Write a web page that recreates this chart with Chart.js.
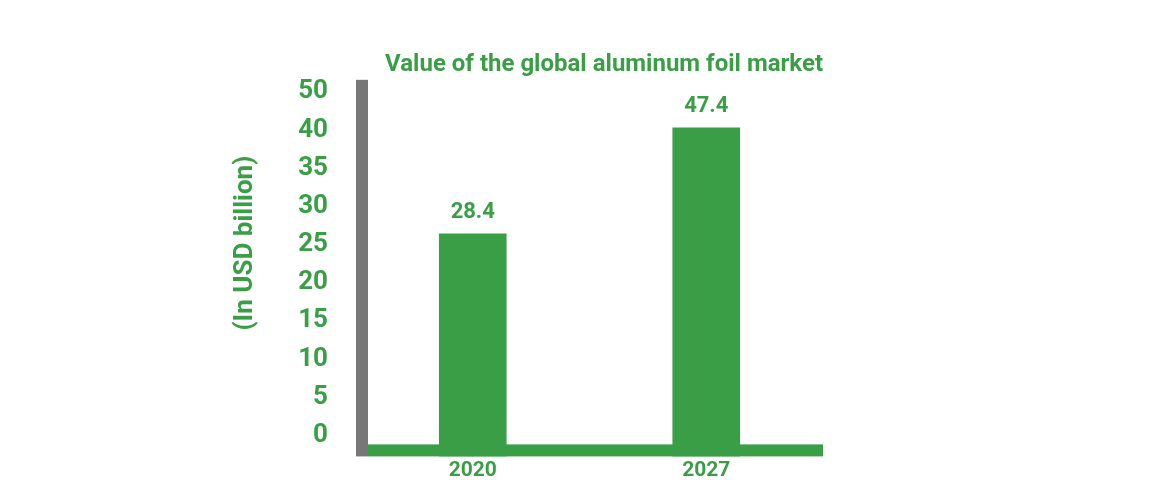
<!DOCTYPE html>
<html>
<head>
<meta charset="utf-8">
<script src="https://cdn.jsdelivr.net/npm/chart.js"></script>
<style>
  html, body { margin: 0; padding: 0; background: #fff; }
  #wrap { width: 1170px; height: 500px; }
</style>
</head>
<body>
<div id="wrap"><canvas id="myChart"></canvas></div>
<script>
let years = ['2020', '2027'];
let values = [28.4, 47.4];          // numbers printed above the bars
let barHeights = [26.4, 40.3];      // bar tops as drawn, read against the printed axis
let tickLabels = ['0', '5', '10', '15', '20', '25', '30', '35', '40', '50'];

let green = '#3a9e46';
let grey = '#777777';
let font = 'Roboto, "Open Sans", sans-serif';

let axisMin = -2.76;
let axisMax = 46.58;

// grey y bar, green base line, value labels and the rotated unit title
let decor = {
    id: 'decor',
    beforeDatasetsDraw(chart) {
        let {ctx, chartArea: a} = chart;
        ctx.save();
        ctx.fillStyle = grey;
        ctx.fillRect(a.left, a.top, 12, a.bottom - a.top);
        ctx.fillStyle = green;
        ctx.fillRect(a.left + 12, a.bottom - 12, a.right - a.left - 12, 12);
        ctx.restore();
    },
    afterDatasetsDraw(chart) {
        let {ctx, chartArea: a} = chart;
        let meta = chart.getDatasetMeta(0);
        ctx.save();
        ctx.fillStyle = green;
        ctx.textAlign = 'center';
        ctx.textBaseline = 'middle';
        ctx.font = 'bold 22px ' + font;
        meta.data.forEach((bar, i) => {
            ctx.fillText(values[i].toFixed(1), bar.x, bar.y - 21);
        });

        ctx.font = 'bold 26px ' + font;
        ctx.translate(chart.scales.y.left + 13, (a.top + a.bottom) / 2 - 25);
        ctx.rotate(-Math.PI / 2);
        ctx.fillText('(In USD billion)', 0, 0);
        ctx.restore();
    }
};

let ctx = document.getElementById('myChart').getContext('2d');

let myChart = new Chart(ctx, {
    type: 'bar',
    data: {
        labels: years,
        datasets: [{
            data: barHeights,
            backgroundColor: green,
            base: axisMin,
            barThickness: 67
        }]
    },
    options: {
        responsive: true,
        maintainAspectRatio: false,
        animation: false,
        layout: {
            padding: { left: 232, right: 347, top: 0, bottom: 17 }
        },
        plugins: {
            legend: { display: false },
            tooltip: { enabled: false },
            title: {
                display: true,
                text: 'Value of the global aluminum foil market',
                align: 'end',
                color: green,
                font: { family: font, size: 24, weight: 'bold' },
                padding: { top: 51, bottom: 0 }
            }
        },
        scales: {
            x: {
                grid: { display: false },
                border: { display: false },
                ticks: {
                    color: green,
                    padding: -6,
                    font: { family: font, size: 21, weight: 'bold' }
                }
            },
            y: {
                min: axisMin,
                max: axisMax,
                grid: { display: false, drawTicks: false },
                border: { display: false },
                afterFit: (scale) => { scale.width = 124; },
                afterBuildTicks: (scale) => {
                    scale.ticks = tickLabels.map((t, i) => ({ value: i * 5 }));
                },
                ticks: {
                    color: green,
                    padding: 28,
                    font: { family: font, size: 26, weight: 'bold' },
                    callback: (value, index) => tickLabels[index]
                }
            }
        }
    },
    plugins: [decor]
});
</script>
</body>
</html>
